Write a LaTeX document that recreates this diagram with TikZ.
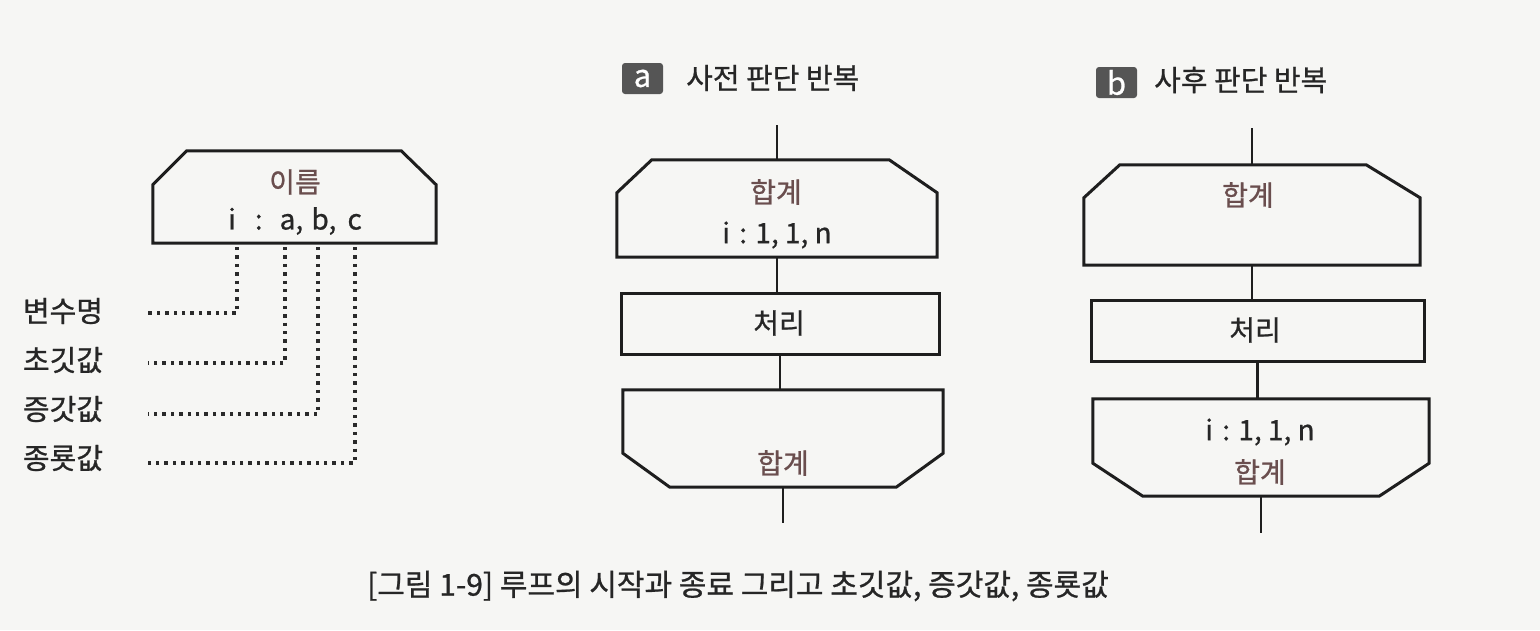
\documentclass[tikz,border=0pt]{standalone}
\usepackage{fontspec}
\setmainfont{Noto Sans CJK KR}[FakeBold=0.8]
\definecolor{bgc}{HTML}{F6F6F4}
\definecolor{lc}{HTML}{1E1E1E}
\definecolor{tc}{HTML}{262626}
\definecolor{brn}{HTML}{6A4E4E}
\definecolor{tagc}{HTML}{555555}
\definecolor{dc}{HTML}{2A2A2A}
\newcommand\lpstart[4]{%
  \draw[outl] ([yshift=-#3pt]#1.north west) -- ([xshift=#2pt]#1.north west)
    -- ([xshift=-#4pt]#1.north east) -- ([yshift=-#3pt]#1.north east)
    -- (#1.south east) -- (#1.south west) -- cycle;}
\newcommand\lpend[3]{%
  \draw[outl] (#1.north west) -- (#1.north east) -- ([yshift=#3pt]#1.south east)
    -- ([xshift=-#2pt]#1.south east) -- ([xshift=#2pt]#1.south west)
    -- ([yshift=#3pt]#1.south west) -- cycle;}
\begin{document}
\begin{tikzpicture}[x=1pt,y=-1pt,
  frm/.style={draw=none, inner sep=0pt},
  outl/.style={draw=lc, line width=3pt, line join=miter},
  procbox/.style={draw=lc, line width=3pt, inner sep=0pt},
  conn/.style={draw=lc, line width=2.6pt},
  dotl/.style={draw=dc, line width=3.4pt, dash pattern=on 3.4pt off 5pt},
  lbl/.style={text=brn, inner sep=0pt, font=\fontsize{28}{32}\selectfont},
  txt/.style={text=tc, inner sep=0pt, font=\fontsize{28}{32}\selectfont},
  side/.style={text=tc, inner sep=0pt, font=\fontsize{29}{32}\selectfont},
  tag/.style={fill=tagc, rounded corners=3pt, text=white, inner sep=0pt,
    minimum width=41pt, minimum height=31pt, font=\fontsize{31}{31}\selectfont},
  ttl/.style={text=tc, inner sep=0pt, anchor=west, font=\fontsize{29}{32}\selectfont},
  capt/.style={text=tc, inner sep=0pt, font=\fontsize{30}{32}\selectfont}]
\useasboundingbox (0,0) rectangle (1540,630);
\fill[bgc] (0,0) rectangle (1540,630);

% ---------- left legend ----------
\node[frm, minimum width=283pt, minimum height=92pt] (lsh) at (294.5,197) {};
\lpstart{lsh}{34}{34}{35}
\node[lbl] (lname) at (295,182) {이름};
\node[txt, anchor=west] (lvar) at (228,221) {i\hspace{19pt}:\hspace{17pt}a,\hspace{2pt} b,\hspace{5pt} c};

\node[side] (l1) at (63,311) {변수명};
\node[side] (l2) at (63,360) {초깃값};
\node[side] (l3) at (63,409) {증갓값};
\node[side] (l4) at (63,458) {종룟값};

\coordinate (d1) at (237,247); \coordinate (e1) at (148,313);
\coordinate (d2) at (285,247); \coordinate (e2) at (148,363);
\coordinate (d3) at (318,247); \coordinate (e3) at (148,414);
\coordinate (d4) at (355,247); \coordinate (e4) at (148,463);
\draw[dotl] (d1) |- (e1);
\draw[dotl] (d2) |- (e2);
\draw[dotl] (d3) |- (e3);
\draw[dotl] (d4) |- (e4);

% ---------- panel a ----------
\node[tag] (ta) at (642.5,78.5) {a};
\node[ttl] (tta) at (686,78) {사전 판단 반복};

\node[frm, minimum width=320pt, minimum height=97pt] (a1) at (777,208.5) {};
\lpstart{a1}{35}{33}{48}
\coordinate (a0) at (777,125);
\node[lbl] (a1t1) at (776,192) {합계};
\node[txt] (a1t2) at (777,235) {i\hspace{3pt} : 1, 1, n};

\node[procbox, minimum width=318pt, minimum height=61pt] (a2) at (780,323.5) {};
\node[txt] (a2t) at (779,323) {처리};

\node[frm, minimum width=320pt, minimum height=97pt] (a3) at (783,438.5) {};
\lpend{a3}{47}{34}
\node[lbl] (a3t) at (783,463) {합계};
\coordinate (a4) at (784,523);

\draw[conn] (a0) -- (a1.north);
\draw[conn] (a1.south) -- (a1.south |- a2.north);
\draw[conn] (a2.south) -- (a2.south |- a3.north);
\draw[conn] (a3.south) -- (a3.south |- a4);

% ---------- panel b ----------
\node[tag] (tb) at (1116.5,82.5) {b};
\node[ttl] (ttb) at (1154,80) {사후 판단 반복};

\node[frm, minimum width=336pt, minimum height=100pt] (b1) at (1252,215) {};
\lpstart{b1}{36}{33}{54}
\coordinate (b0) at (1252,128);
\node[lbl] (b1t) at (1248,195) {합계};

\node[procbox, minimum width=333pt, minimum height=61pt] (b2) at (1257.5,331) {};
\node[txt] (b2t) at (1255,330) {처리};

\node[frm, minimum width=336pt, minimum height=97pt] (b3) at (1261,447.5) {};
\lpend{b3}{50}{33}
\node[txt] (b3t1) at (1260,432) {i\hspace{3pt} : 1, 1, n};
\node[lbl] (b3t2) at (1260,472) {합계};
\coordinate (b4) at (1262,533);

\draw[conn] (b0) -- (b1.north);
\draw[conn] (b1.south) -- (b1.south |- b2.north);
\draw[conn] (b2.south) -- (b2.south |- b3.north);
\draw[conn] (b3.south) -- (b3.south |- b4);

% ---------- caption ----------
\node[capt] (cap) at (738,586) {[그림 1-9] 루프의 시작과 종료 그리고 초깃값, 증갓값, 종룟값};
\end{tikzpicture}
\end{document}
